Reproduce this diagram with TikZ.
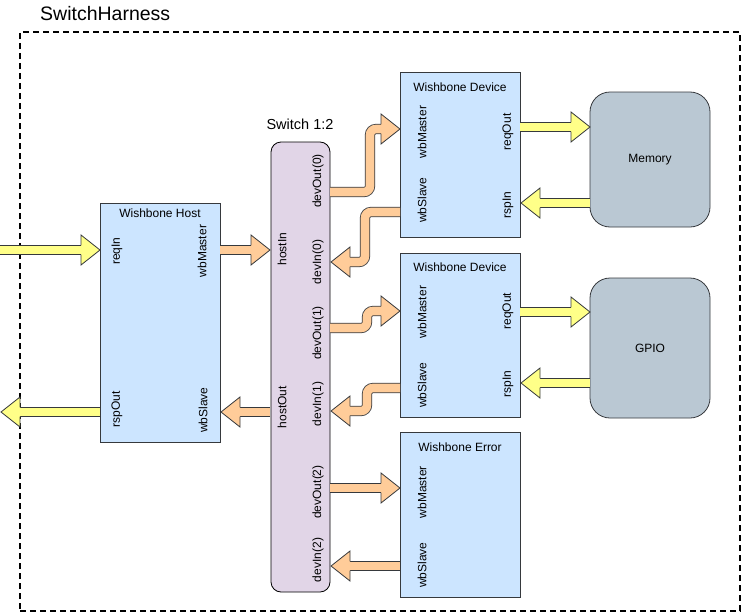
\documentclass[tikz,border=0pt]{standalone}
\usepackage{fontspec}
\setmainfont{Liberation Sans}
\definecolor{strokec}{HTML}{36393D}
\definecolor{yel}{HTML}{FFFF88}
\definecolor{org}{HTML}{FFCC99}
\definecolor{devblue}{HTML}{CCE5FF}
\definecolor{swpurple}{HTML}{E1D5E7}
\definecolor{memgray}{HTML}{BAC8D3}
\newcommand{\headR}[2]{%
  \fill[#2] (#1) -- ++(-19,15) -- ++(0,-30) -- cycle;
  \draw[hd] ([shift={(-19,-4.7)}]#1) -- ++(0,-10.3) -- (#1) -- ++(-19,15) -- ++(0,-10.3);}
\newcommand{\headL}[2]{%
  \fill[#2] (#1) -- ++(19,15) -- ++(0,-30) -- cycle;
  \draw[hd] ([shift={(19,-4.7)}]#1) -- ++(0,-10.3) -- (#1) -- ++(19,15) -- ++(0,-10.3);}
\begin{document}
\begin{tikzpicture}[x=1pt,y=-1pt,
  lbl/.style={font=\fontsize{12}{14}\selectfont, inner sep=0pt},
  port/.style={lbl, rotate=90},
  devbox/.style={draw=strokec, fill=devblue, line width=0.8pt, inner sep=0pt, minimum width=120pt},
  hd/.style={draw=strokec, line width=0.8pt, line join=miter},
  shaft/.style={draw=strokec, line width=0.8pt, double distance=8.6pt, shorten >=19pt},
  yshaft/.style={shaft, double=yel},
  oshaft/.style={shaft, double=org, rounded corners=6pt},
]
\useasboundingbox (0,0) rectangle (741,613);
% outer harness
\node[draw=black, line width=1.2pt, dash pattern=on 6pt off 4pt, inner sep=0pt,
      minimum width=720pt, minimum height=579pt] (harness) at (380,321.5) {};
\node[font=\fontsize{19.5}{22}\selectfont, inner sep=0pt, anchor=base west] (harnessT) at (40,20) {SwitchHarness};

% boxes
\node[devbox, minimum height=239pt] (host) at (160,322.5) {};
\node[draw=black, fill=swpurple, line width=0.8pt, rounded corners=10pt, inner sep=0pt,
      minimum width=59pt, minimum height=450pt] (switch) at (300.5,367) {};
\node[devbox, minimum height=165pt] (dev1) at (460,154.5) {};
\node[devbox, minimum height=164pt] (dev2) at (460,335) {};
\node[devbox, minimum height=165pt] (err) at (460,514.5) {};
\node[draw=strokec, fill=memgray, line width=0.8pt, rounded corners=20pt, inner sep=0pt,
      minimum width=120pt, minimum height=135pt] (mem) at (650,159.5) {};
\node[draw=strokec, fill=memgray, line width=0.8pt, rounded corners=20pt, inner sep=0pt,
      minimum width=120pt, minimum height=140pt] (gpio) at (650,348) {};

% titles
\node[lbl] (hostT) at (160,213) {Wishbone Host};
\node[font=\fontsize{14.5}{16}\selectfont, inner sep=0pt] (switchT) at (300,124) {Switch 1:2};
\node[lbl] (dev1T) at (460,87) {Wishbone Device};
\node[lbl] (dev2T) at (460,267) {Wishbone Device};
\node[lbl] (errT) at (460,447) {Wishbone Error};
\node[lbl] (memT) at (650,160) {Memory};
\node[lbl] (gpioT) at (650,348) {GPIO};

% port labels
\node[port] (hReqIn) at (117,251) {reqIn};
\node[port] (hWbM) at (202,251) {wbMaster};
\node[port] (hRspOut) at (117,409) {rspOut};
\node[port] (hWbS) at (203,410) {wbSlave};
\node[port] (sHostIn) at (282,249) {hostIn};
\node[port] (sHostOut) at (282,407) {hostOut};
\node[port] (sDO0) at (318,181) {devOut(0)};
\node[port] (sDI0) at (318,262) {devIn(0)};
\node[port] (sDO1) at (318,333) {devOut(1)};
\node[port] (sDI1) at (318,404) {devIn(1)};
\node[port] (sDO2) at (318,492) {devOut(2)};
\node[port] (sDI2) at (318,560) {devIn(2)};
\node[port] (d1M) at (422,132) {wbMaster};
\node[port] (d1R) at (508,132) {reqOut};
\node[port] (d1S) at (422,200) {wbSlave};
\node[port] (d1I) at (508,205) {rspIn};
\node[port] (d2M) at (422,312) {wbMaster};
\node[port] (d2R) at (508,311) {reqOut};
\node[port] (d2S) at (422,385) {wbSlave};
\node[port] (d2I) at (508,384) {rspIn};
\node[port] (eM) at (422,492) {wbMaster};
\node[port] (eS) at (422,565) {wbSlave};

% connection points
\coordinate (inL) at (0,250);
\coordinate (outL) at (1,412);
\coordinate (hostIn) at (100,250);
\coordinate (hostOut) at (100,412);
\coordinate (hostM) at (220,250);
\coordinate (hostS) at (221,412);
\coordinate (swHI) at (270,250);
\coordinate (swHO) at (270,412);
\coordinate (swO0) at (330,192);
\coordinate (swI0) at (331,262);
\coordinate (swO1) at (330,328);
\coordinate (swI1) at (331,411);
\coordinate (swO2) at (330,488);
\coordinate (swI2) at (331,566);
\coordinate (d1Mp) at (400,129);
\coordinate (d1Sp) at (400,212);
\coordinate (d2Mp) at (400,311);
\coordinate (d2Sp) at (400,388);
\coordinate (eMp) at (400,488);
\coordinate (eSp) at (400,566);
\coordinate (d1Rp) at (520,127);
\coordinate (d1Ip) at (521,203);
\coordinate (d2Rp) at (520,312);
\coordinate (d2Ip) at (521,383);
\coordinate (memI) at (590,127);
\coordinate (memO) at (590,203);
\coordinate (gpioI) at (590,312);
\coordinate (gpioO) at (590,383);

% yellow arrows
\draw[yshaft] (inL) -- (hostIn); \headR{hostIn}{yel}
\draw[yshaft] (hostOut) -- (outL); \headL{outL}{yel}
\draw[yshaft] (d1Rp) -- (memI); \headR{memI}{yel}
\draw[yshaft] (memO) -- (d1Ip); \headL{d1Ip}{yel}
\draw[yshaft] (d2Rp) -- (gpioI); \headR{gpioI}{yel}
\draw[yshaft] (gpioO) -- (d2Ip); \headL{d2Ip}{yel}

% orange arrows
\draw[oshaft] (hostM) -- (swHI); \headR{swHI}{org}
\draw[oshaft] (swHO) -- (hostS); \headL{hostS}{org}
\draw[oshaft] (swO0) -- ++(40,0) |- (d1Mp); \headR{d1Mp}{org}
\draw[oshaft] (d1Sp) -- ++(-35,0) |- (swI0); \headL{swI0}{org}
\draw[oshaft] (swO1) -- ++(37,0) |- (d2Mp); \headR{d2Mp}{org}
\draw[oshaft] (d2Sp) -- ++(-33,0) |- (swI1); \headL{swI1}{org}
\draw[oshaft] (swO2) -- (eMp); \headR{eMp}{org}
\draw[oshaft] (eSp) -- (swI2); \headL{swI2}{org}
\end{tikzpicture}
\end{document}
